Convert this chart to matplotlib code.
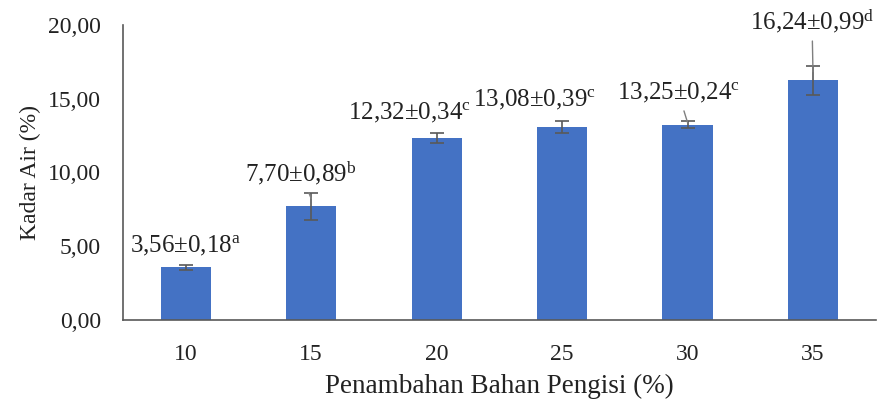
import matplotlib
matplotlib.use("Agg")
import matplotlib.pyplot as plt
import numpy as np

plt.rcParams['font.family'] = ['Liberation Serif', 'DejaVu Serif']
plt.rcParams['mathtext.fontset'] = 'custom'
plt.rcParams['mathtext.rm'] = 'Liberation Serif'
plt.rcParams['mathtext.it'] = 'Liberation Serif'

# Data
categories = ["10", "15", "20", "25", "30", "35"]
means = [3.56, 7.70, 12.32, 13.08, 13.25, 16.24]
sds = [0.18, 0.89, 0.34, 0.39, 0.24, 0.99]
letters = ["a", "b", "c", "c", "c", "d"]
yticks = [0, 5, 10, 15, 20]

# Label offsets (pixels) from each bar top and whether a leader line is drawn
label_dx = [0, -10, -27, -28, -9, -1]
label_dy = [22, 25, 25, 27, 29, 50]
leaders = [False, True, False, False, True, True]

def fmt(v):
    return f"{v:.2f}".replace(".", ",")

fig = plt.figure(figsize=(8.81, 4.03), dpi=100)
ax = fig.add_axes([0.1396, 0.206, 0.8544, 0.732])

x = np.arange(len(categories))
ax.bar(x, means, width=0.4, color="#4472C4", zorder=2)
ax.errorbar(x, means, yerr=sds, fmt="none", ecolor="#595959",
            elinewidth=1.2, capsize=5, capthick=1.2, zorder=3)

ax.set_xlim(-0.5, len(categories) - 0.5)
ax.set_ylim(0, 20)
ax.set_yticks(yticks)
ax.set_yticklabels([fmt(t) for t in yticks])
ax.set_xticks(x)
ax.set_xticklabels(categories)
ax.tick_params(axis="both", length=0, labelsize=17, colors="#222222")
ax.tick_params(axis="x", pad=17)
ax.tick_params(axis="y", pad=16)

for side in ("top", "right"):
    ax.spines[side].set_visible(False)
for side in ("left", "bottom"):
    ax.spines[side].set_color("#595959")
    ax.spines[side].set_linewidth(1.2)

ax.set_xlabel("Penambahan Bahan Pengisi (%)", fontsize=19.5, color="#222222", labelpad=7)
ax.set_ylabel("Kadar Air (%)", fontsize=17, color="#222222", labelpad=5)

for i, (m, s, l) in enumerate(zip(means, sds, letters)):
    label = fmt(m) + "±" + fmt(s) + r"$^{\mathrm{" + l + "}}$"
    props = dict(arrowstyle="-", color="#7f7f7f", lw=1,
                 shrinkA=2, shrinkB=0) if leaders[i] else None
    ax.annotate(label, xy=(x[i], m + s * 0.6 if leaders[i] else m),
                xytext=(label_dx[i], label_dy[i]),
                textcoords="offset pixels", ha="center", va="center",
                fontsize=18, color="#222222", arrowprops=props, zorder=4)

fig.savefig("out.png", dpi=100)
